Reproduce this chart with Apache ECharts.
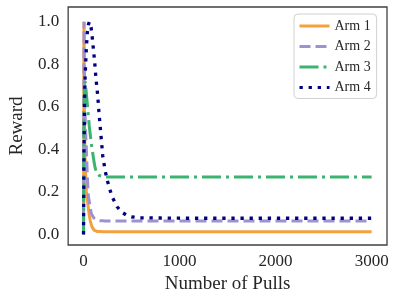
<!DOCTYPE html>
<html>
<head>
<meta charset="utf-8">
<script src="https://cdn.jsdelivr.net/npm/echarts@6/dist/echarts.min.js"></script>
<style>html,body{margin:0;padding:0;background:#fff}#c{width:398px;height:300px}</style>
</head>
<body>
<div id="c"></div>
<script>
var pulls = [0, 5, 10, 15, 20, 30, 40, 50, 60, 70, 80, 90, 100, 110, 120, 130, 140, 150, 160, 175, 200, 225, 250, 275, 300, 350, 400, 450, 500, 600, 800, 1000, 1500, 2000, 2500, 3000];
var arm1 = [0, 1.0, 0.55, 0.4, 0.3, 0.2, 0.16, 0.125, 0.09, 0.065, 0.047, 0.034, 0.025, 0.02, 0.017, 0.015, 0.014, 0.013, 0.013, 0.013, 0.012, 0.012, 0.012, 0.012, 0.012, 0.012, 0.012, 0.012, 0.012, 0.012, 0.012, 0.012, 0.012, 0.012, 0.012, 0.012];
var arm2 = [0, 1.0, 0.75, 0.6, 0.5, 0.4, 0.27, 0.18, 0.155, 0.125, 0.1, 0.09, 0.082, 0.076, 0.072, 0.069, 0.067, 0.066, 0.065, 0.064, 0.064, 0.063, 0.063, 0.063, 0.063, 0.063, 0.063, 0.063, 0.063, 0.063, 0.063, 0.063, 0.063, 0.063, 0.063, 0.063];
var arm3 = [0, 0.55, 0.7, 0.72, 0.71, 0.66, 0.61, 0.56, 0.51, 0.47, 0.43, 0.4, 0.37, 0.34, 0.315, 0.298, 0.288, 0.282, 0.278, 0.275, 0.272, 0.271, 0.27, 0.27, 0.27, 0.27, 0.27, 0.27, 0.27, 0.27, 0.27, 0.27, 0.27, 0.27, 0.27, 0.27];
var arm4 = [0, 0.4, 0.6, 0.72, 0.78, 0.88, 0.95, 0.985, 1.0, 1.0, 0.97, 0.93, 0.885, 0.84, 0.79, 0.73, 0.69, 0.64, 0.58, 0.5, 0.37, 0.3, 0.25, 0.21, 0.175, 0.13, 0.104, 0.09, 0.082, 0.078, 0.077, 0.076, 0.076, 0.076, 0.076, 0.076];
var names = ['Arm 1', 'Arm 2', 'Arm 3', 'Arm 4'];
var xTicks = [0, 1000, 2000, 3000];
var yTicks = [0.0, 0.2, 0.4, 0.6, 0.8, 1.0];

function pairs(ys) { return pulls.map(function (x, i) { return [x, ys[i]]; }); }
var SERIF = 'Liberation Serif';
var txt = '#262626';

var styles = [
  {color: '#f4a13d', type: 'solid'},
  {color: '#9d91cf', type: [11, 5]},
  {color: '#3cb371', type: [19, 5, 3, 5]},
  {color: '#000080', type: [3.3, 5.8]}
];
var all = [arm1, arm2, arm3, arm4];
var series = all.map(function (ys, i) {
  return {
    name: names[i], type: 'line', data: pairs(ys), showSymbol: false, symbol: 'none',
    lineStyle: {color: styles[i].color, width: i === 3 ? 3.3 : 3, type: styles[i].type, cap: 'butt'},
    itemStyle: {color: styles[i].color},
    z: 2 + i, animation: false
  };
});
var legendData = names.map(function (n, i) {
  return {name: n, lineStyle: {color: styles[i].color, width: 3, type: styles[i].type}};
});

var chart = echarts.init(document.getElementById('c'), null, {renderer: 'canvas'});
chart.setOption({
  animation: false,
  backgroundColor: '#fff',
  grid: {left: 61, right: 11, top: 7, bottom: 55, show: true, borderColor: '#404040', borderWidth: 1.3, backgroundColor: '#fff'},
  legend: {
    data: legendData, orient: 'vertical', left: 294, top: 14, itemWidth: 30, itemHeight: 14, itemGap: 6.5,
    padding: [5, 6, 4, 4], borderColor: '#d0d0d0', borderWidth: 1, borderRadius: 4, backgroundColor: '#fff',
    textStyle: {fontFamily: SERIF, fontSize: 14, color: txt, padding: [0, 0, 0, 0]},
    lineStyle: {width: 3},
    itemStyle: {opacity: 0}
  },
  xAxis: {
    type: 'value', min: -160, max: 3160, interval: 20,
    axisLine: {show: false}, axisTick: {show: false}, splitLine: {show: false},
    axisLabel: {
      margin: 8, fontFamily: SERIF, fontSize: 17, color: txt,
      formatter: function (v) {
        var r = Math.round(v);
        return xTicks.indexOf(r) >= 0 && Math.abs(v - r) < 1e-6 ? String(r) : '';
      }
    },
    name: 'Number of Pulls', nameLocation: 'middle', nameGap: 26,
    nameTextStyle: {fontFamily: SERIF, fontSize: 19, color: txt}
  },
  yAxis: {
    type: 'value', min: -0.05, max: 1.07, interval: 0.01,
    axisLine: {show: false}, axisTick: {show: false}, splitLine: {show: false},
    axisLabel: {
      margin: 9, fontFamily: SERIF, fontSize: 17, color: txt,
      formatter: function (v) {
        var r = Math.round(v * 100);
        if (Math.abs(v * 100 - r) > 1e-4) return '';
        for (var k = 0; k < yTicks.length; k++) {
          if (Math.round(yTicks[k] * 100) === r) return yTicks[k].toFixed(1);
        }
        return '';
      }
    },
    name: 'Reward', nameLocation: 'middle', nameGap: 37,
    nameTextStyle: {fontFamily: SERIF, fontSize: 19, color: txt}
  },
  series: series
});
</script>
</body>
</html>
